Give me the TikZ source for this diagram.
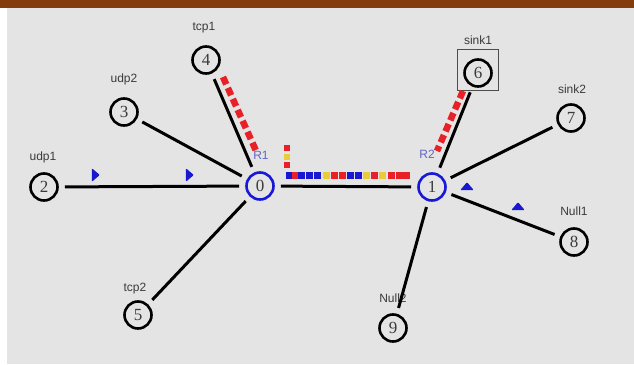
\documentclass[tikz,border=0pt]{standalone}
\usepackage{fontspec}
\setmainfont{Liberation Sans}
\newfontfamily\numfont{Liberation Serif}
\usetikzlibrary{shapes.geometric}
\definecolor{bgray}{HTML}{E4E4E4}
\definecolor{brownbar}{HTML}{833C0B}
\definecolor{nblue}{HTML}{1818D8}
\definecolor{pred}{HTML}{E82028}
\definecolor{pyel}{HTML}{E8CC3C}
\definecolor{pblue}{HTML}{1818D0}
\definecolor{rlab}{HTML}{6464C8}
\definecolor{txt}{HTML}{3A3A3A}
\tikzset{
  nd/.style={circle, draw=black, line width=2.6pt, minimum size=27pt, inner sep=0pt, font=\numfont\fontsize{17}{17}\selectfont, text=txt},
  rnd/.style={nd, draw=nblue},
  lab/.style={font=\fontsize{12}{12}\selectfont, text=txt},
  rlabel/.style={font=\fontsize{12}{12}\selectfont, text=rlab},
  link/.style={line width=3pt, black, shorten >=6pt, shorten <=6pt},
  pkt/.style={inner sep=0pt, minimum size=6pt},
  tri/.style={fill=pblue, isosceles triangle, isosceles triangle apex angle=80, inner sep=0pt, minimum height=8pt, minimum width=8pt, rounded corners=1pt},
  redflow/.style={pred, line width=6.5pt, dash pattern=on 8pt off 4pt}
}
\begin{document}
\begin{tikzpicture}[x=1pt,y=-1pt]
\useasboundingbox (0,0) rectangle (634,364);
\fill[white] (0,0) rectangle (634,364);
\fill[bgray] (7,8) rectangle (634,364);
\fill[brownbar] (0,0) rectangle (634,8);

% nodes
\node[rnd] (n0) at (260,186) {0};
\node[rnd] (n1) at (432,187) {1};
\node[nd] (n2) at (44,187) {2};
\node[nd] (n3) at (124,112) {3};
\node[nd] (n4) at (206,60) {4};
\node[nd] (n5) at (138,315) {5};
\node[nd] (n6) at (478,73) {6};
\node[draw=black!70, line width=1pt, minimum width=41pt, minimum height=41pt, inner sep=0pt] (box6) at (478,70) {};
\node[nd] (n7) at (571,118) {7};
\node[nd] (n8) at (574,242) {8};
\node[nd] (n9) at (393,328) {9};

% labels
\node[lab] (l2) at (43,157) {udp1};
\node[lab] (l3) at (124,79) {udp2};
\node[lab] (l4) at (204,28) {tcp1};
\node[lab] (l5) at (135,289) {tcp2};
\node[lab] (l6) at (478,40) {sink1};
\node[lab] (l7) at (572,89) {sink2};
\node[lab] (l8) at (574,211) {Null1};
\node[lab] (l9) at (393,298) {Null2};
\node[rlabel] (r1) at (261,155) {R1};
\node[rlabel] (r2) at (427,154) {R2};

% links
\draw[link] (n2) -- (n0);
\draw[link] (n3) -- (n0);
\draw[link] (n4) -- (n0);
\draw[link] (n5) -- (n0);
\draw[link] (n0) -- (n1);
\draw[link] (n1) -- (n6);
\draw[link] (n1) -- (n7);
\draw[link] (n1) -- (n8);
\draw[link] (n1) -- (n9);

% red flows
\draw[redflow] (223,77) -- (257,153);
\draw[redflow] (463,91) -- (437,151);

% vertical stack of packets near n0
\node[pkt, fill=pred] (s1) at (287,148) {};
\node[pkt, fill=pyel] (s2) at (287,157) {};
\node[pkt, fill=pred] (s3) at (287,165) {};

% packets on link 0-1
\foreach \x/\c in {289/pblue,295/pred,301/pblue,309/pblue,317/pblue,326/pyel,334/pred,342/pred,350/pblue,358/pblue,366/pyel,374/pred,382/pyel,391/pred,399/pred,406/pred}{
  \node[pkt, fill=\c, minimum width=7pt, minimum height=7pt] at (\x,175) {};
}

% blue triangles
\node[tri] (t1) at (95,175) {};
\node[tri] (t2) at (189,175) {};
\node[tri, shape border rotate=90] (t3) at (467,187) {};
\node[tri, shape border rotate=60] (t4) at (518,207) {};
\end{tikzpicture}
\end{document}
